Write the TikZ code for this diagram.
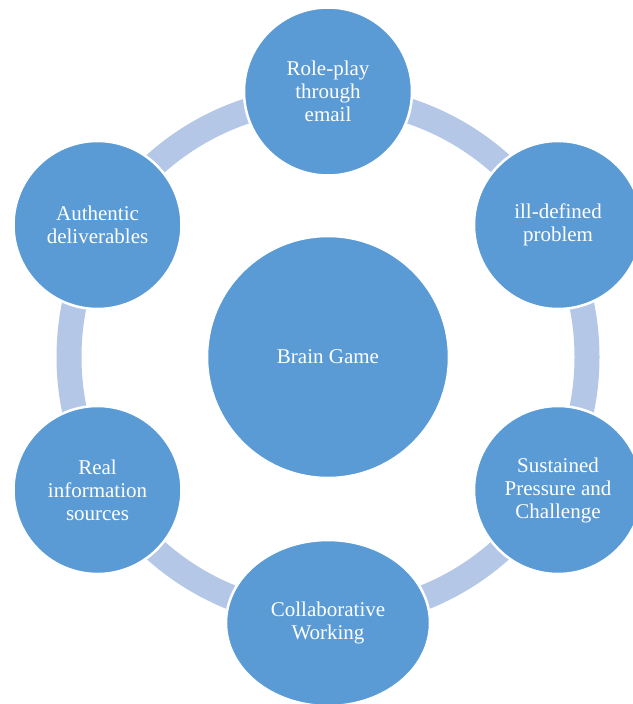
\documentclass[tikz,border=0pt]{standalone}
\usepackage{fontspec}
\setmainfont{Liberation Serif}
\usetikzlibrary{shapes.geometric}
\definecolor{nodeblue}{HTML}{5B9BD5}
\definecolor{ringblue}{HTML}{B4C7E7}
\tikzset{
  bubble/.style={circle, fill=nodeblue, draw=white, line width=2.5pt, inner sep=0pt,
    minimum size=168pt, text=white, align=center, font=\fontsize{21}{23}\selectfont},
  ringline/.style={draw=ringblue, line width=25pt},
}
\begin{document}
\begin{tikzpicture}[x=1pt,y=-1pt]
\useasboundingbox (0,0) rectangle (632,704);
\coordinate (hub) at (328,357);
\draw[ringline] (hub) circle[radius=259];
\node[bubble, minimum size=242pt] (brain) at (hub) {Brain Game};
\node[bubble] (role) at (328,91.5) {Role-play\\through\\email};
\node[bubble] (ill) at (558,225) {ill-defined\\problem};
\node[bubble] (sus) at (558,490) {Sustained\\Pressure and\\Challenge};
\node[bubble, ellipse, minimum width=204pt, minimum height=166pt] (collab) at (328,623) {Collaborative\\Working};
\node[bubble] (real) at (97.5,490) {Real\\information\\sources};
\node[bubble] (auth) at (97.5,225) {Authentic\\deliverables};
\end{tikzpicture}
\end{document}
